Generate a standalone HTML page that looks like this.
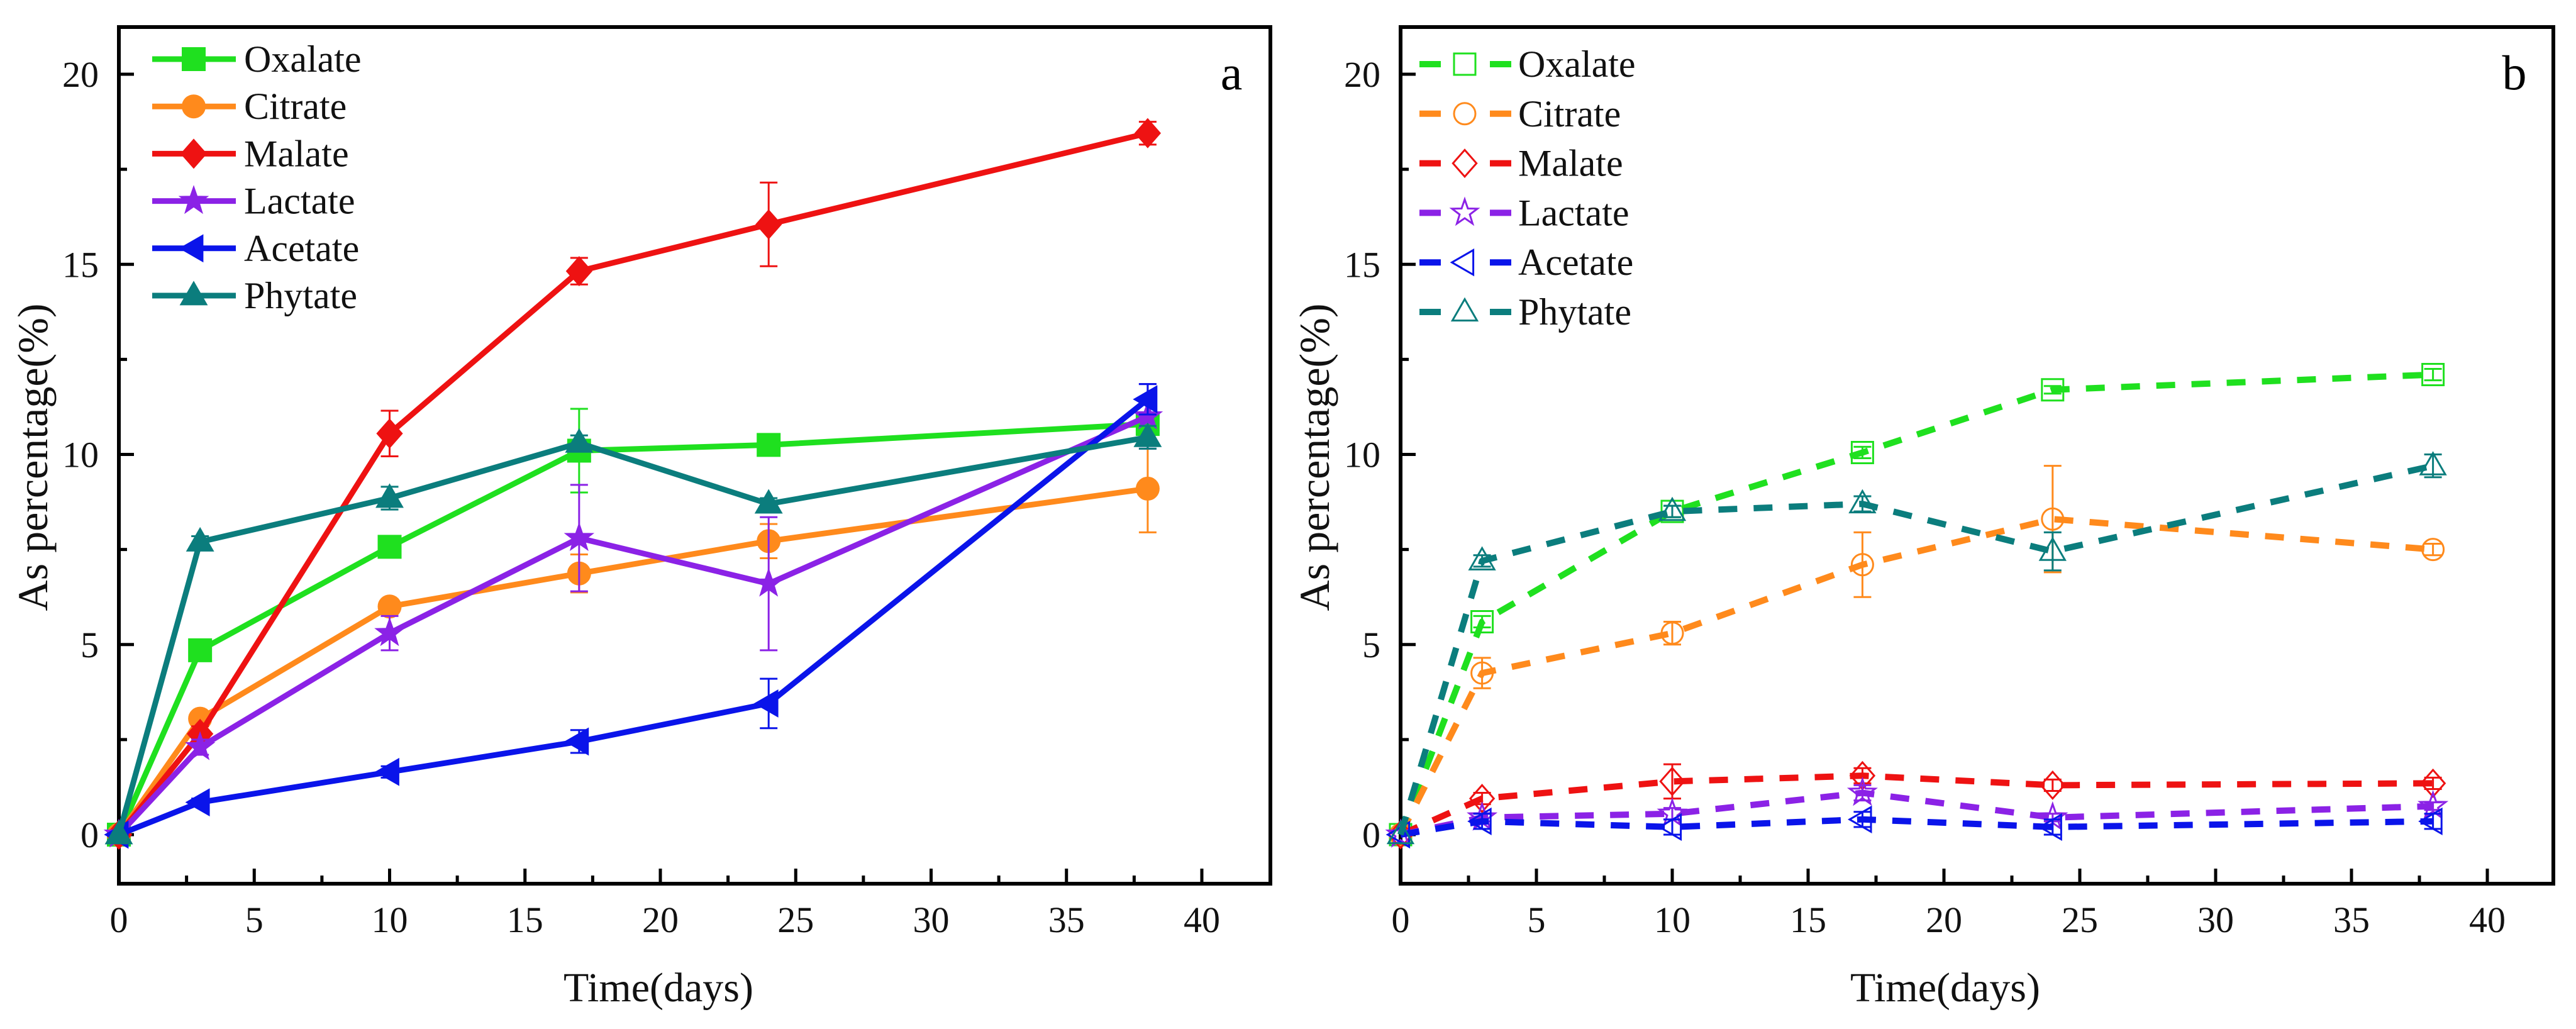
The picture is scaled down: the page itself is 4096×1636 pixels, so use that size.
<!DOCTYPE html>
<html><head><meta charset="utf-8"><style>
html,body{margin:0;padding:0;background:#fff;}
svg{display:block;font-family:"Liberation Serif",serif;}
</style></head><body>
<svg id="chart" width="4096" height="1636" viewBox="0 0 4096 1636" xmlns="http://www.w3.org/2000/svg"></svg>
<script>
const days = [0, 3, 10, 17, 24, 38];
const seriesNames = ["Oxalate","Citrate","Malate","Lactate","Acetate","Phytate"];
const seriesColors = ["#1fe01f","#ff8a1c","#ee1212","#8b22e6","#0a14ea","#0b7d7d"];
const markerTypes = ["square","circle","diamond","star","left","triangle"];
const xTicks = [0,5,10,15,20,25,30,35,40];
const yTicks = [0,5,10,15,20];
// Panel a values
const aOxalate = [0, 4.85, 7.57, 10.1, 10.25, 10.8];
const aCitrate = [0, 3.05, 6.0, 6.87, 7.72, 9.1];
const aMalate  = [0, 2.65, 10.55, 14.82, 16.05, 18.45];
const aLactate = [0, 2.3, 5.3, 7.8, 6.6, 11.0];
const aAcetate = [0, 0.85, 1.65, 2.45, 3.45, 11.45];
const aPhytate = [0, 7.7, 8.85, 10.3, 8.7, 10.45];
const aErrOxalate = [0, 0.15, 0.15, 1.1, 0.15, 0.2];
const aErrCitrate = [0, 0.15, 0.2, 0.5, 0.45, 1.15];
const aErrMalate  = [0, 0.2, 0.6, 0.35, 1.1, 0.3];
const aErrLactate = [0, 0.2, 0.45, 1.4, 1.75, 0.85];
const aErrAcetate = [0, 0.1, 0.15, 0.3, 0.65, 0.4];
const aErrPhytate = [0, 0.15, 0.3, 0.2, 0.15, 0.3];
// Panel b values
const bOxalate = [0, 5.6, 8.5, 10.05, 11.7, 12.1];
const bCitrate = [0, 4.25, 5.3, 7.1, 8.3, 7.5];
const bMalate  = [0, 0.95, 1.4, 1.55, 1.3, 1.35];
const bLactate = [0, 0.45, 0.55, 1.1, 0.45, 0.75];
const bAcetate = [0, 0.35, 0.2, 0.4, 0.2, 0.35];
const bPhytate = [0, 7.2, 8.5, 8.7, 7.45, 9.7];
const bErrOxalate = [0, 0.15, 0.15, 0.15, 0.1, 0.15];
const bErrCitrate = [0, 0.4, 0.3, 0.85, 1.4, 0.15];
const bErrMalate  = [0, 0.15, 0.45, 0.2, 0.15, 0.15];
const bErrLactate = [0, 0.1, 0.15, 0.2, 0.1, 0.1];
const bErrAcetate = [0, 0.2, 0.2, 0.2, 0.2, 0.2];
const bErrPhytate = [0, 0.15, 0.15, 0.2, 0.5, 0.3];

const NS = "http://www.w3.org/2000/svg";
const svg = document.getElementById('chart');
function mk(tag, attrs, parent){ const e=document.createElementNS(NS,tag); for(const k in attrs) e.setAttribute(k,attrs[k]); (parent||svg).appendChild(e); return e; }

function markerPath(type, cx, cy, r){
  if(type==="square") return `M${cx-r},${cy-r}H${cx+r}V${cy+r}H${cx-r}Z`;
  if(type==="diamond") return `M${cx},${cy-r*1.25}L${cx+r*1.1},${cy}L${cx},${cy+r*1.25}L${cx-r*1.1},${cy}Z`;
  if(type==="triangle") return `M${cx},${cy-r*1.2}L${cx+r*1.15},${cy+r*0.8}L${cx-r*1.15},${cy+r*0.8}Z`;
  if(type==="left") return `M${cx-r*1.2},${cy}L${cx+r*0.8},${cy-r*1.15}L${cx+r*0.8},${cy+r*1.15}Z`;
  if(type==="star"){ let d=""; for(let i=0;i<10;i++){ const a=-Math.PI/2+i*Math.PI/5; const rr=i%2?r*0.5:r*1.25; d+=(i?"L":"M")+(cx+rr*Math.cos(a)).toFixed(1)+","+(cy+rr*Math.sin(a)).toFixed(1);} return d+"Z"; }
  return `M${cx-r},${cy}A${r},${r} 0 1 0 ${cx+r},${cy}A${r},${r} 0 1 0 ${cx-r},${cy}Z`;
}

function drawPanel(p){
  const g = mk('g',{});
  
  
  const X = d => p.x0 + (d/40)*(p.x40-p.x0);
  const Y = v => p.y0 - v*(p.y0-p.y20)/20;
  const fr = mk('rect',{x:p.left,y:p.top,width:p.right-p.left,height:p.bottom-p.top,fill:'none',stroke:'#000','stroke-width':6},g);
  
  
  xTicks.forEach((t,i)=>{
    mk('line',{x1:X(t),x2:X(t),y1:p.bottom,y2:p.bottom-24,stroke:'#000','stroke-width':5},g);
    if(i<xTicks.length-1) mk('line',{x1:X(t+2.5),x2:X(t+2.5),y1:p.bottom,y2:p.bottom-13,stroke:'#000','stroke-width':5},g);
    const tx = mk('text',{x:X(t),y:1482,'font-size':58,'text-anchor':'middle',fill:'#111'},g);
    tx.textContent = t;
    
    
  });
  yTicks.forEach((t,i)=>{
    mk('line',{x1:p.left,x2:p.left+24,y1:Y(t),y2:Y(t),stroke:'#000','stroke-width':5},g);
    if(i<yTicks.length-1) mk('line',{x1:p.left,x2:p.left+13,y1:Y(t+2.5),y2:Y(t+2.5),stroke:'#000','stroke-width':5},g);
    const tx = mk('text',{x:p.left-32,y:Y(t)+20,'font-size':58,'text-anchor':'end',fill:'#111'},g);
    tx.textContent = t;
    
    
  });
  const xt = mk('text',{x:p.xTitleX,y:1592,'font-size':66,'text-anchor':'middle',fill:'#111'},g);
  xt.textContent='Time(days)';
  
  
  const yt = mk('text',{x:0,y:0,'font-size':68,'text-anchor':'middle',fill:'#111',transform:`translate(${p.left-114},${p.y0-600}) rotate(-90)`},g);
  yt.textContent='As percentage(%)';
  
  
  const pl = mk('text',{x:p.right-62,y:142,'font-size':78,'text-anchor':'middle',fill:'#000'},g);
  pl.textContent=p.id;
  
  

  p.vals.forEach((vals,si)=>{
    const col = seriesColors[si];
    const sg = mk('g',{},g);
    
    
    vals.forEach((v,i)=>{
      const e = p.errs[si][i]; if(!e) return;
      const x=X(days[i]);
      mk('line',{x1:x,x2:x,y1:Y(v-e),y2:Y(v+e),stroke:col,'stroke-width':3},sg);
      mk('line',{x1:x-14,x2:x+14,y1:Y(v+e),y2:Y(v+e),stroke:col,'stroke-width':3},sg);
      mk('line',{x1:x-14,x2:x+14,y1:Y(v-e),y2:Y(v-e),stroke:col,'stroke-width':3},sg);
    });
    const pts = vals.map((v,i)=>X(days[i]).toFixed(1)+','+Y(v).toFixed(1)).join(' ');
    const ln = mk('polyline',{points:pts,fill:'none',stroke:col,'stroke-width':p.dashed?10:9,'stroke-dasharray':p.dashed?'30 26':'none','stroke-linejoin':'round'},sg);
    
    
    vals.forEach((v,i)=>{
      const m = mk('path',{d:markerPath(markerTypes[si],X(days[i]),Y(v),p.dashed?17:18),fill:p.dashed?'none':col,stroke:col,'stroke-width':p.dashed?3:2},sg);
      
      
    });
    const ly = p.legY0 + si*p.legDy;
    const lg = mk('g',{},g);
    
    
    if(p.dashed){
      mk('line',{x1:p.legX0,x2:p.legX0+34,y1:ly,y2:ly,stroke:col,'stroke-width':10},lg);
      mk('line',{x1:p.legX0+112,x2:p.legX0+146,y1:ly,y2:ly,stroke:col,'stroke-width':10},lg);
    } else {
      mk('line',{x1:p.legX0,x2:p.legX0+133,y1:ly,y2:ly,stroke:col,'stroke-width':9},lg);
    }
    mk('path',{d:markerPath(markerTypes[si],p.legX0+(p.dashed?72:66),ly,p.dashed?17:18),fill:p.dashed?'none':col,stroke:col,'stroke-width':p.dashed?3:2},lg);
    const t = mk('text',{x:p.legTx,y:ly+20,'font-size':60,fill:'#111'},lg);
    t.textContent = seriesNames[si];
  });
}

drawPanel({id:'a',left:189,right:2020,top:43,bottom:1405,x0:189,x40:1911,y0:1327,y20:118,dashed:false,xTitleX:1047,
  vals:[aOxalate,aCitrate,aMalate,aLactate,aAcetate,aPhytate],
  errs:[aErrOxalate,aErrCitrate,aErrMalate,aErrLactate,aErrAcetate,aErrPhytate],
  legX0:242,legY0:94,legDy:75.2,legTx:388});
drawPanel({id:'b',left:2227,right:4060,top:43,bottom:1405,x0:2227,x40:3955,y0:1327,y20:118,dashed:true,xTitleX:3093,
  vals:[bOxalate,bCitrate,bMalate,bLactate,bAcetate,bPhytate],
  errs:[bErrOxalate,bErrCitrate,bErrMalate,bErrLactate,bErrAcetate,bErrPhytate],
  legX0:2257,legY0:102,legDy:78.8,legTx:2414});
</script>
</body></html>
